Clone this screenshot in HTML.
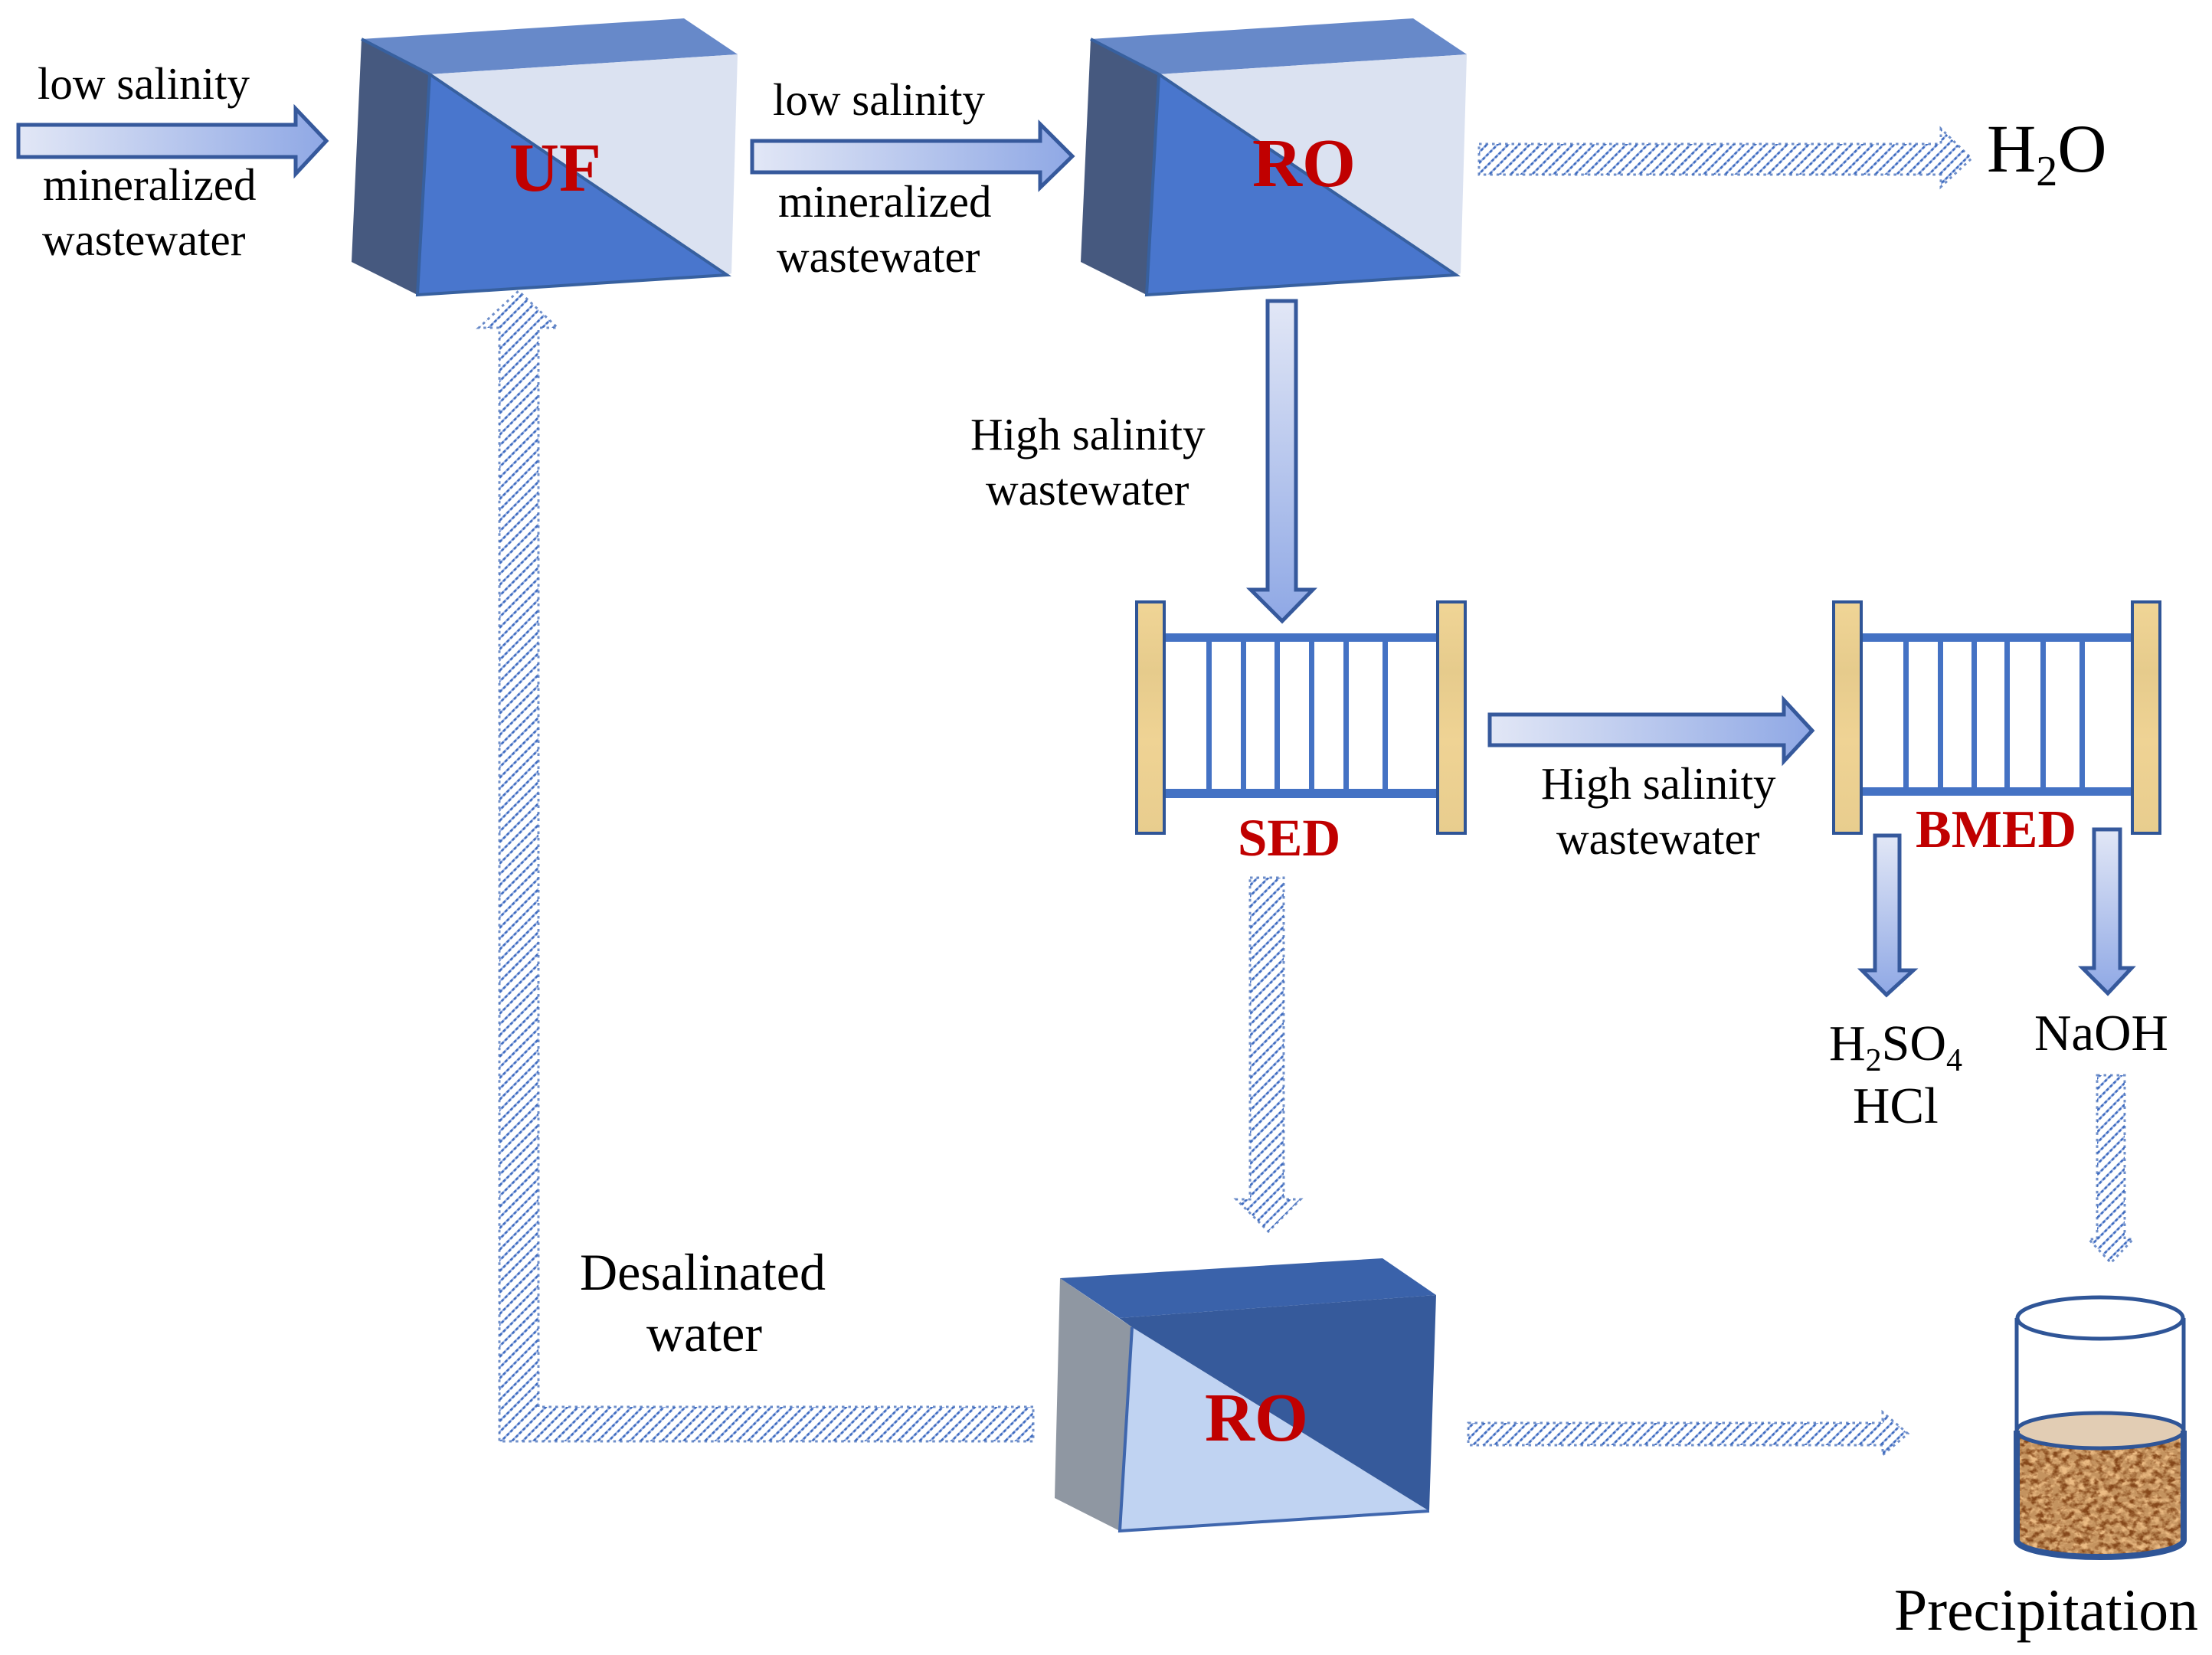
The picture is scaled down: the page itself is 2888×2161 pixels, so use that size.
<!DOCTYPE html>
<html><head><meta charset="utf-8"><style>
html,body{margin:0;padding:0;background:#fff}
svg{display:block}
text{font-family:"Liberation Serif",serif;fill:#000}
.r{font-weight:bold;fill:#c00000}
.a{stroke:#36599c;stroke-width:5;stroke-linejoin:miter}
.h{fill:url(#hatch);stroke:#3f69b8;stroke-width:3;stroke-dasharray:3.5 5;stroke-opacity:.75}
</style></head><body>
<svg width="2888" height="2161" viewBox="0 0 2888 2161" xmlns="http://www.w3.org/2000/svg">
<defs>
<pattern id="hatch" width="6.6" height="9.9" patternUnits="userSpaceOnUse" patternTransform="rotate(-45)"><rect width="6.6" height="9.9" fill="#fff"/><rect y="0" width="6.6" height="2.4" fill="#9db4e4"/><rect x="0.6" y="0" width="3.8" height="2.8" fill="#3f6cc0"/></pattern>
<linearGradient id="gh" x1="0" y1="0" x2="1" y2="0"><stop offset="0" stop-color="#e2e7f6"/><stop offset="1" stop-color="#8fa8e5"/></linearGradient>
<linearGradient id="gv" x1="0" y1="0" x2="0" y2="1"><stop offset="0" stop-color="#e2e7f6"/><stop offset="1" stop-color="#8fa8e5"/></linearGradient>
<linearGradient id="wood" x1="0" y1="0" x2="0" y2="1"><stop offset="0" stop-color="#f0d596"/><stop offset=".3" stop-color="#e6cb8c"/><stop offset=".6" stop-color="#efd394"/><stop offset="1" stop-color="#e8cd8e"/></linearGradient>
<filter id="sand" x="0" y="0" width="100%" height="100%" color-interpolation-filters="sRGB"><feTurbulence type="fractalNoise" baseFrequency="0.1 0.13" numOctaves="3" seed="7" result="t"/><feColorMatrix in="t" type="matrix" values="0 0 0 0 .52  0 0 0 0 .28  0 0 0 0 .1  3.4 0 0 0 -1.5" result="d"/><feColorMatrix in="t" type="matrix" values="0 0 0 0 .93  0 0 0 0 .74  0 0 0 0 .52  0 3.2 0 0 -1.35" result="l"/><feMerge result="m"><feMergeNode in="SourceGraphic"/><feMergeNode in="l"/><feMergeNode in="d"/></feMerge><feComposite in="m" in2="SourceGraphic" operator="in"/></filter>
<g id="box">
<polygon points="472,51 561,97 545,385 459,342" fill="#46597f"/>
<polygon points="472,51 893,24 963,71 561,97" fill="#6789c9"/>
<polygon points="561,97 963,71 955,357 949,359" fill="#dbe2f1"/>
<polygon points="561,97 949,359 545,385" fill="#4976cd"/>
<path d="M472,51 L561,97 M561,97 L949,359 L545,385 L561,97" fill="none" stroke="#37609f" stroke-width="4"/>
</g>
</defs>
<rect width="2888" height="2161" fill="#fff"/>

<use href="#box"/>
<use href="#box" x="952"/>
<polygon points="1384,1669 1478,1733 1462,1999 1377,1956" fill="#8f97a2"/>
<polygon points="1478,1733 1866,1973 1462,1999" fill="#c0d3f2"/>
<polygon points="1461,1721 1875,1691 1866,1973 1478,1733" fill="#365a9b"/>
<polygon points="1384,1669 1805,1643 1875,1691 1461,1721" fill="#3a62aa"/>
<path d="M1478,1733 L1462,1999 L1866,1973" fill="none" stroke="#3f66ad" stroke-width="4"/>

<!-- gradient arrows -->
<path class="a" fill="url(#gh)" d="M24,163H386V142L426,184 386,227V205H24Z"/>
<path class="a" fill="url(#gh)" d="M982,184H1358V162L1400,204 1358,245V225H982Z"/>
<path class="a" fill="url(#gh)" d="M1945,933H2329V914L2366,954 2329,994V973H1945Z"/>
<path class="a" fill="url(#gv)" d="M1655,393H1692V770H1714L1674,811 1633,770H1655Z"/>
<path class="a" fill="url(#gv)" d="M2448,1091H2480V1267H2498L2463,1299 2431,1267H2448Z"/>
<path class="a" fill="url(#gv)" d="M2734,1083H2768V1264H2783L2752,1297 2719,1264H2734Z"/>

<!-- hatched arrows -->
<path class="h" d="M1931,188H2534V168L2574,207 2534,244V228H1931Z"/>
<path class="h" d="M1632,1146H1676V1566H1698L1656,1608 1614,1566H1632Z"/>
<path class="h" d="M2738,1404H2774V1618H2785L2756,1649 2727,1618H2738Z"/>
<path class="h" d="M1917,1858H2458V1844L2491,1872 2458,1900V1887H1917Z"/>
<path class="h" d="M1349,1837H703V428H728L677,380 625,428H652V1882H1349Z"/>

<!-- SED -->
<g fill="#4472c4">
<rect x="1522" y="827" width="353" height="11"/><rect x="1522" y="1030" width="353" height="12"/>
<rect x="1575" y="838" width="7" height="192"/><rect x="1620" y="838" width="7" height="192"/><rect x="1664" y="838" width="7" height="192"/><rect x="1709" y="838" width="7" height="192"/><rect x="1754" y="838" width="7" height="192"/><rect x="1805" y="838" width="7" height="192"/>
<rect x="2432" y="827" width="350" height="11"/><rect x="2432" y="1028" width="350" height="11"/>
<rect x="2485" y="838" width="7" height="190"/><rect x="2530" y="838" width="7" height="190"/><rect x="2574" y="838" width="7" height="190"/><rect x="2617" y="838" width="7" height="190"/><rect x="2664" y="838" width="7" height="190"/><rect x="2715" y="838" width="7" height="190"/>
</g>
<g fill="url(#wood)" stroke="#2f5597" stroke-width="4">
<rect x="1484" y="786" width="36" height="302"/><rect x="1877" y="786" width="36" height="302"/>
<rect x="2394" y="786" width="36" height="302"/><rect x="2784" y="786" width="36" height="302"/>
</g>

<!-- cylinder -->
<path d="M2633,1868 V2011 A109,22 0 0 0 2851,2011 V1868 A109,23 0 0 1 2633,1868Z" fill="#c4935f" filter="url(#sand)"/>
<ellipse cx="2742" cy="1868" rx="109" ry="23" fill="#e2cdb4"/>
<path d="M2633,1721V1868M2851,1721V1868" stroke="#2f5597" stroke-width="5" fill="none"/>
<ellipse cx="2742" cy="1721" rx="108" ry="27" fill="#fff" stroke="#2f5597" stroke-width="5"/>
<ellipse cx="2742" cy="1868" rx="109" ry="23" fill="none" stroke="#2f5597" stroke-width="5"/>
<path d="M2633,1868V2011A109,22 0 0 0 2851,2011V1868" fill="none" stroke="#2f5597" stroke-width="8"/>

<!-- labels -->
<g font-size="59">
<text x="49" y="129">low salinity</text>
<text x="56" y="261">mineralized</text>
<text x="55" y="333">wastewater</text>
<text x="1009" y="150">low salinity</text>
<text x="1016" y="283">mineralized</text>
<text x="1014" y="355">wastewater</text>
<text x="1267" y="587">High salinity</text>
<text x="1287" y="659">wastewater</text>
<text x="2012" y="1043">High salinity</text>
<text x="2032" y="1115">wastewater</text>
</g>
<text class="r" x="665" y="249" font-size="90">UF</text>
<text class="r" x="1635" y="243" font-size="90">RO</text>
<text class="r" x="1573" y="1881" font-size="90">RO</text>
<text class="r" x="1616" y="1117" font-size="69">SED</text>
<text class="r" x="2501" y="1106" font-size="70">BMED</text>
<text x="2594" y="224" font-size="89">H<tspan font-size="56" dy="18">2</tspan><tspan dy="-18">O</tspan></text>
<text x="2388" y="1384" font-size="66">H<tspan font-size="42" dy="14">2</tspan><tspan dy="-14">SO</tspan><tspan font-size="42" dy="14">4</tspan></text>
<text x="2419" y="1466" font-size="67">HCl</text>
<text x="2656" y="1371" font-size="67">NaOH</text>
<text x="2473" y="2128" font-size="77.7">Precipitation</text>
<text x="757" y="1684" font-size="68">Desalinated</text>
<text x="844" y="1764" font-size="68">water</text>
</svg>
</body></html>
